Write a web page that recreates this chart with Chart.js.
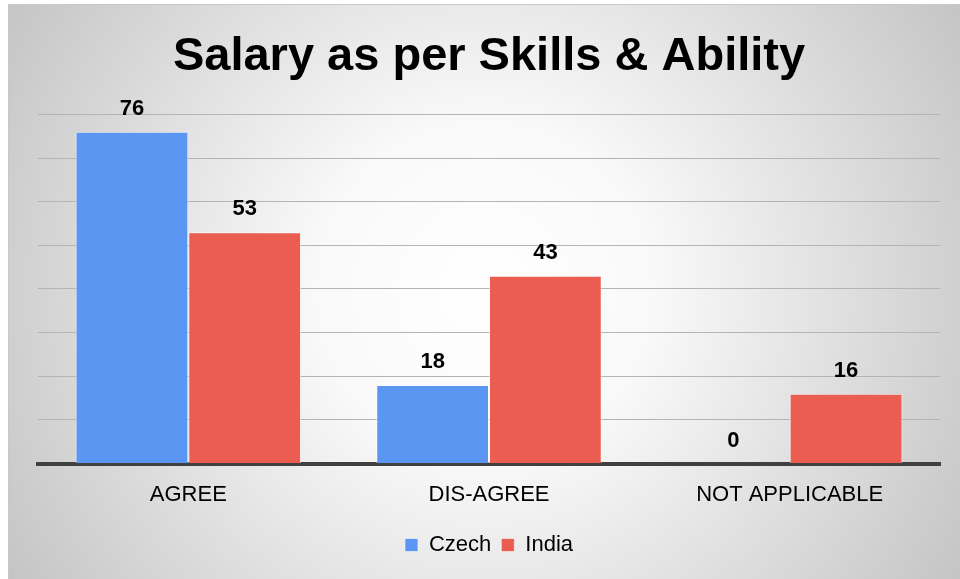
<!DOCTYPE html>
<html>
<head>
<meta charset="utf-8">
<title>Salary as per Skills & Ability</title>
<script src="https://cdn.jsdelivr.net/npm/chart.js@4.4.1/dist/chart.umd.min.js"></script>
<style>
    html, body { margin: 0; padding: 0; background: #fff; }
    #wrap { position: relative; width: 960px; height: 579px; }
</style>
</head>
<body>
<div id="wrap"><canvas id="salaryChart" width="960" height="579"></canvas></div>
<script>
// Dados do gráfico
const categorias = ['AGREE', 'DIS-AGREE', 'NOT APPLICABLE'];
const valoresCzech = [76, 18, 0];
const valoresIndia = [53, 43, 16];
const seriesNomes = ['Czech', 'India'];

document.addEventListener('DOMContentLoaded', function() {
    Chart.defaults.font.family = '"Liberation Sans", Arial, sans-serif';
    Chart.defaults.color = '#000';

    // Fundo com gradiente radial (estilo Office)
    const fundoPlugin = {
        id: 'fundo',
        beforeDraw(chart) {
            const ctx = chart.ctx;
            ctx.save();
            ctx.fillStyle = '#fff';
            ctx.fillRect(0, 0, chart.width, chart.height);
            const grad = ctx.createRadialGradient(484, 290, 0, 484, 290, 560);
            grad.addColorStop(0, '#ffffff');
            grad.addColorStop(0.3, '#f9f9f9');
            grad.addColorStop(1, '#c4c4c4');
            ctx.fillStyle = grad;
            ctx.fillRect(8, 4, chart.width - 8, chart.height - 4);
            ctx.strokeStyle = '#c8c8c8';
            ctx.lineWidth = 1;
            ctx.strokeRect(8.5, 4.5, chart.width - 8, chart.height - 4);
            ctx.restore();
        }
    };

    // Rótulos de valor acima das barras
    const rotulosPlugin = {
        id: 'rotulos',
        afterDatasetsDraw(chart) {
            const ctx = chart.ctx;
            ctx.save();
            ctx.font = 'bold 22px "Liberation Sans", Arial, sans-serif';
            ctx.fillStyle = '#000';
            ctx.textAlign = 'center';
            ctx.textBaseline = 'alphabetic';
            chart.data.datasets.forEach((ds, i) => {
                const meta = chart.getDatasetMeta(i);
                meta.data.forEach((bar, j) => {
                    ctx.fillText(String(ds.data[j]), bar.x, bar.y - 17);
                });
            });
            ctx.restore();
        }
    };

    new Chart(document.getElementById('salaryChart'), {
        type: 'bar',
        data: {
            labels: categorias,
            datasets: [{
                label: seriesNomes[0],
                data: valoresCzech,
                backgroundColor: '#5b96f2',
                borderColor: 'rgba(255,255,255,0.55)',
                borderWidth: 1,
                categoryPercentage: 0.75,
                barPercentage: 1.0
            }, {
                label: seriesNomes[1],
                data: valoresIndia,
                backgroundColor: '#eb5d51',
                borderColor: 'rgba(255,255,255,0.55)',
                borderWidth: 1,
                categoryPercentage: 0.75,
                barPercentage: 1.0
            }]
        },
        options: {
            responsive: false,
            animation: false,
            layout: {
                padding: { left: 38, right: 20, top: 4, bottom: 13 }
            },
            scales: {
                x: {
                    grid: { display: false },
                    border: { display: true, color: '#404040', width: 4 },
                    ticks: {
                        font: { size: 22 },
                        color: '#000',
                        padding: 10
                    },
                    afterFit(scale) {
                        scale.height = 60.5;
                    }
                },
                y: {
                    min: 0,
                    max: 80,
                    ticks: { display: false, stepSize: 10 },
                    grid: { color: '#b4b4b4', lineWidth: 1, drawTicks: false },
                    border: { display: false }
                }
            },
            plugins: {
                title: {
                    display: true,
                    text: 'Salary as per Skills & Ability',
                    font: { size: 47, weight: 'bold' },
                    color: '#000',
                    padding: { top: 25, bottom: 29 }
                },
                legend: {
                    position: 'bottom',
                    labels: {
                        font: { size: 22 },
                        color: '#000',
                        boxWidth: 13,
                        boxHeight: 13,
                        padding: 10
                    }
                },
                tooltip: { enabled: false }
            }
        },
        plugins: [fundoPlugin, rotulosPlugin]
    });
});
</script>
</body>
</html>
